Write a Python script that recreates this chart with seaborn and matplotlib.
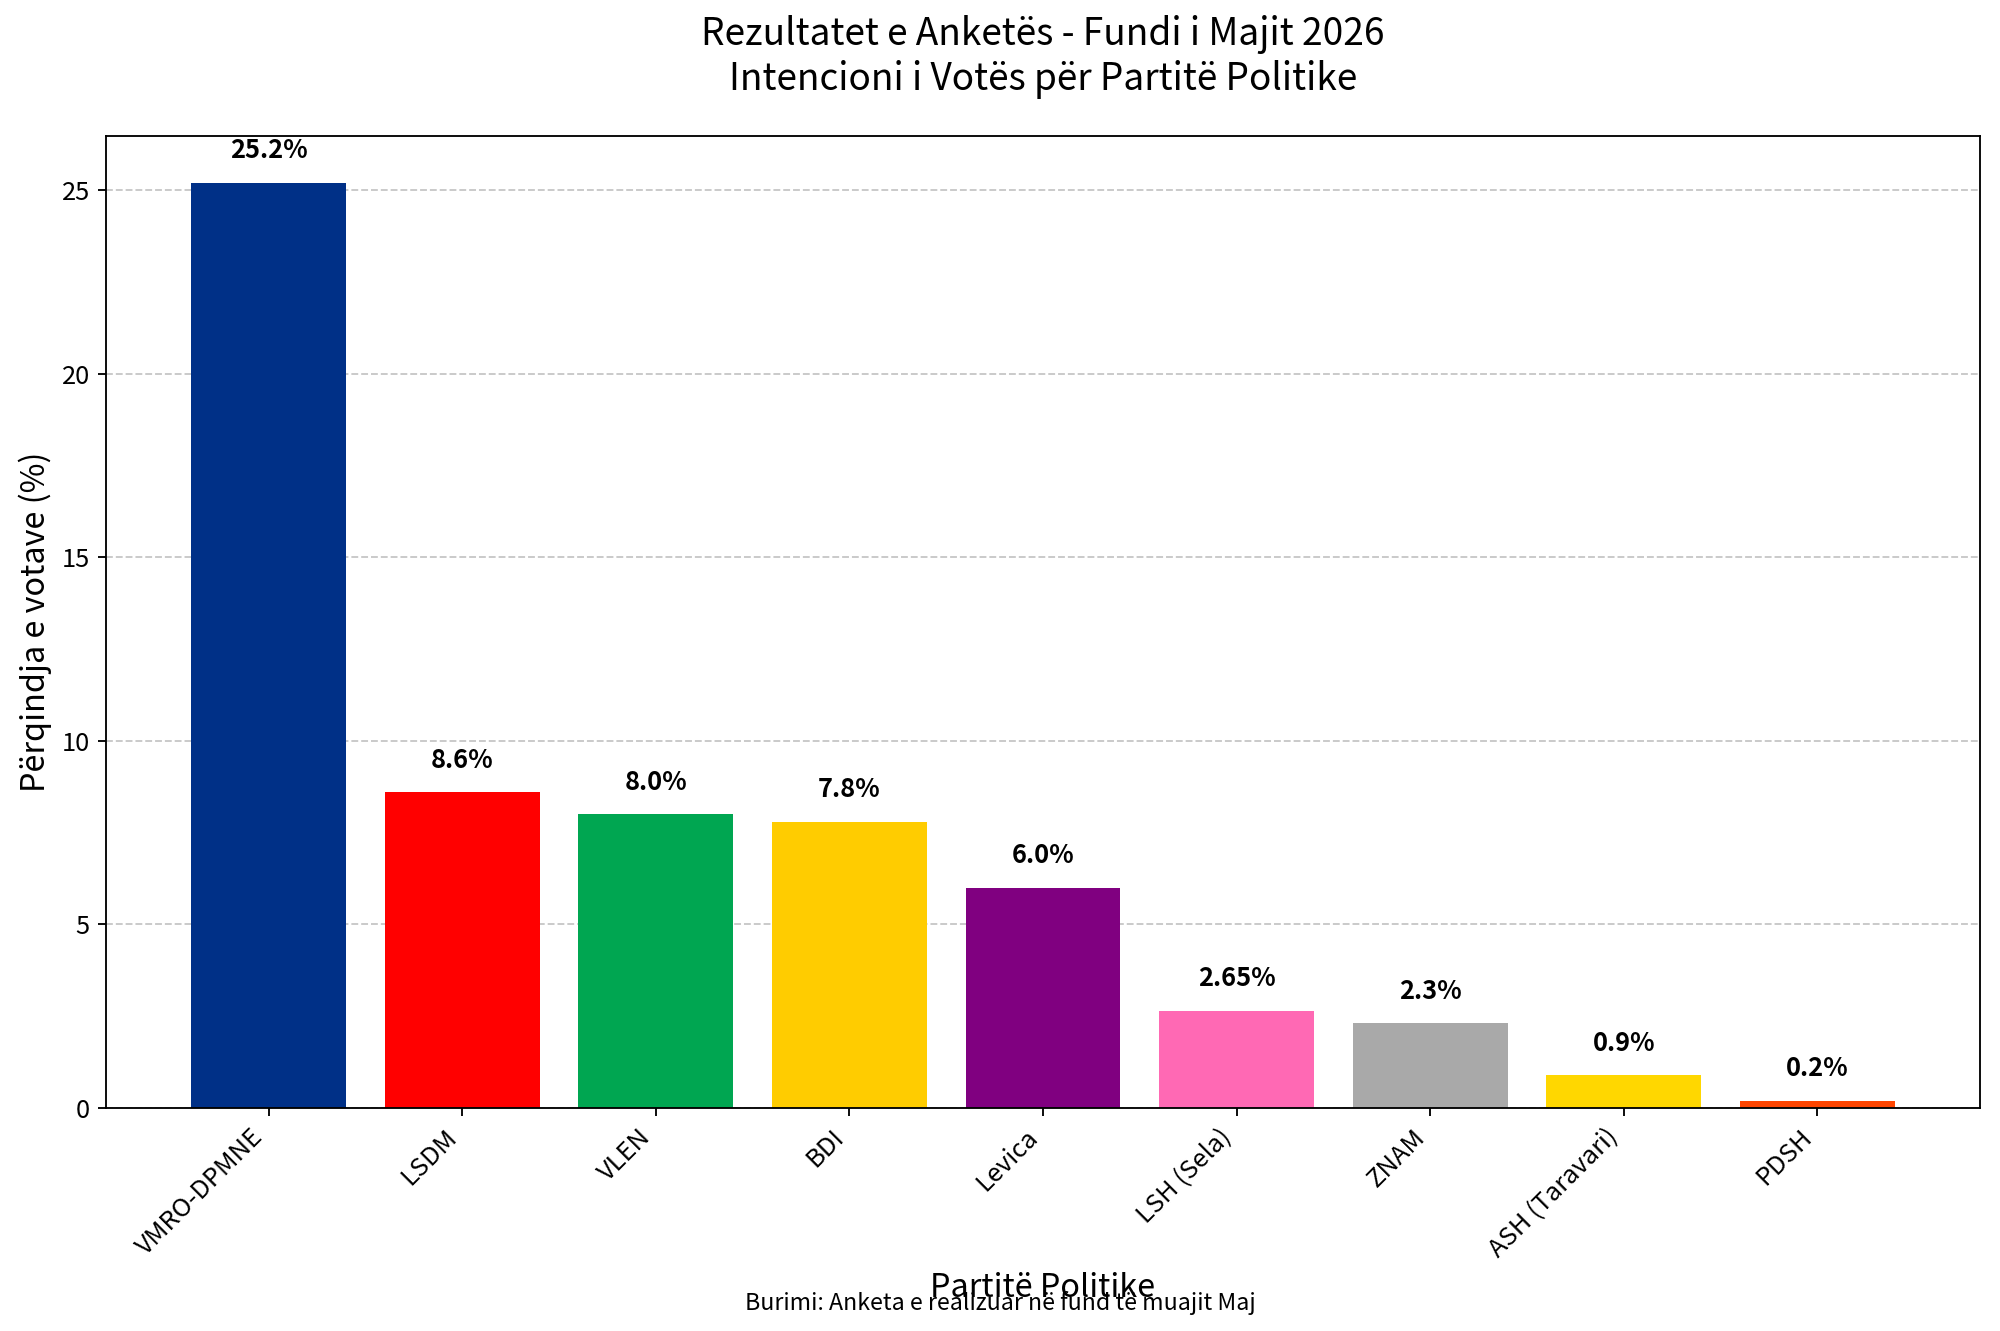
"""Bar chart of poll results - vote intention by political party."""

import matplotlib
matplotlib.use("Agg")
import matplotlib.pyplot as plt
import seaborn as sns
import pandas as pd

parties = ["VMRO-DPMNE", "LSDM", "VLEN", "BDI", "Levica",
           "LSH (Sela)", "ZNAM", "ASH (Taravari)", "PDSH"]
percentages = [25.2, 8.6, 8.0, 7.8, 6.0, 2.65, 2.3, 0.9, 0.2]
colors = ["#003087", "#FF0000", "#00A651", "#FFCC00", "#800080",
          "#FF69B4", "#A9A9A9", "#FFD700", "#FF4500"]

plt.rcParams["font.family"] = ["Noto Sans CJK SC", "DejaVu Sans"]

df = pd.DataFrame({"party": parties, "pct": percentages})

fig, ax = plt.subplots(figsize=(12, 7.986), dpi=166.67)

sns.barplot(data=df, x="party", y="pct", hue="party", palette=colors,
            order=parties, hue_order=parties, legend=False, width=0.8,
            saturation=1, ax=ax)

for i, v in enumerate(percentages):
    ax.text(i, v + 0.5, f"{v}%", ha="center", va="bottom",
            fontsize=11, fontweight="bold")

# same x padding as plain matplotlib bars
pad = 0.05 * (len(parties) - 1 + 0.8)
ax.set_xlim(-0.4 - pad, len(parties) - 1 + 0.4 + pad)

ax.set_title("Rezultatet e Anketës - Fundi i Majit 2026\nIntencioni i Votës për Partitë Politike",
             fontsize=16, pad=20)
ax.set_xlabel("Partitë Politike", fontsize=14)
ax.set_ylabel("Përqindja e votave (%)", fontsize=14)
ax.tick_params(axis="both", labelsize=11)
plt.setp(ax.get_xticklabels(), rotation=45, ha="right")
ax.grid(axis="y", linestyle="--", alpha=0.7)
ax.set_axisbelow(True)

fig.text(0.5, 0.016, "Burimi: Anketa e realizuar në fund të muajit Maj",
         ha="center", fontsize=10)

fig.subplots_adjust(left=0.053, right=0.990, top=0.8975, bottom=0.1676)
fig.savefig("out.png", dpi=166.67)
plt.close()
